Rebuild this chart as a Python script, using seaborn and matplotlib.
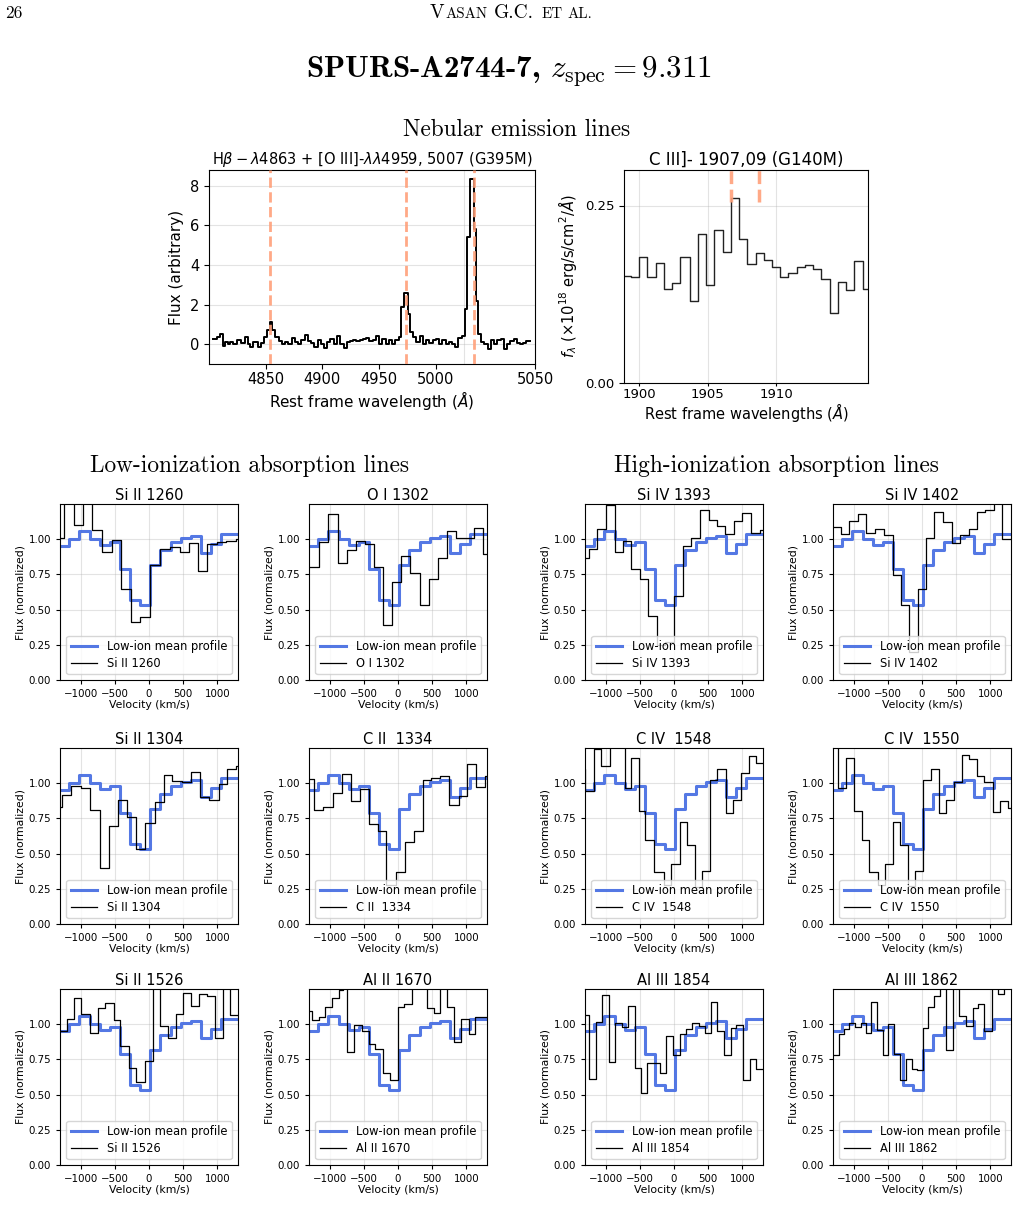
import numpy as np
import pandas as pd
import matplotlib
matplotlib.use("Agg")
import matplotlib.pyplot as plt
import seaborn as sns

# ---------------- data ----------------
# Nebular emission: Hbeta + [OIII] (bin left edges in Angstrom, last value = right end)
em_wave = [4823.0, 4825.7, 4827.6, 4829.9, 4831.5, 4833.1, 4834.9, 4837.2, 4839.9, 4842.9,
           4845.2, 4847.5, 4849.1, 4850.9, 4854.3, 4856.6, 4858.9, 4861.2, 4862.8, 4864.6,
           4866.9, 4869.2, 4871.5, 4873.7, 4876.0, 4878.3, 4880.6, 4882.9, 4885.2, 4887.5,
           4889.7, 4892.0, 4894.3, 4896.6, 4898.9, 4901.2, 4903.5, 4905.7, 4908.0, 4910.3,
           4912.6, 4914.9, 4917.2, 4919.5, 4921.7, 4924.0, 4926.3, 4928.6, 4930.9, 4933.2,
           4935.5, 4937.7, 4940.0, 4942.3, 4944.6, 4946.9, 4949.2, 4951.5, 4953.7, 4955.6,
           4957.4, 4958.8, 4960.6, 4962.0, 4964.0, 4966.3, 4968.6, 4970.9, 4973.2, 4975.5,
           4977.7, 4980.0, 4982.3, 4984.6, 4986.9, 4989.2, 4991.5, 4993.7, 4996.0, 4998.3,
           5000.6, 5002.2, 5004.0, 5006.8, 5008.1, 5010.0, 5012.0, 5014.3, 5016.6, 5018.9,
           5021.2, 5023.5, 5025.7, 5028.0, 5030.3, 5032.6, 5034.9, 5037.2, 5039.5, 5041.7,
           5044.0, 5046.3]
em_flux = [0.24, 0.37, 0.54, -0.10, 0.12, 0.00, 0.12, 0.03, 0.19, 0.08,
           0.34, 0.03, -0.13, 0.12, -0.13, 0.07, 0.37, 0.74, 1.13, 0.71,
           0.34, 0.15, 0.00, 0.12, 0.03, 0.29, 0.12, 0.00, 0.20, 0.46,
           0.15, 0.08, -0.13, 0.20, 0.00, -0.17, 0.12, 0.24, 0.00, 0.40,
           0.03, -0.17, 0.12, 0.17, 0.20, 0.17, 0.20, 0.24, 0.29, 0.17,
           0.20, 0.40, 0.03, 0.24, 0.00, 0.20, 0.00, 0.20, 0.37, 1.89,
           2.60, 2.57, 1.55, 0.62, 0.37, 0.12, 0.42, 0.03, 0.20, 0.07,
           0.20, 0.27, 0.03, 0.20, 0.00, 0.12, 0.00, -0.13, 0.29, 0.40,
           1.80, 5.43, 8.34, 5.80, 2.19, 0.54, 0.12, 0.03, -0.22, 0.20,
           0.03, 0.20, 0.24, -0.22, 0.00, 0.15, 0.24, 0.07, 0.03, 0.07,
           0.15]
em_lines = [4863, 4959, 5007]
# tick labels as printed under the emission panel, and the positions they sit at
em_tick_labels = ["4850", "4900", "4950", "5000", "5050"]
em_tick_pos = [4860, 4900, 4940, 4980, 5050]
em_grid_pos = [4900, 5000]

# C III] 1907,09
c3_wave = [1898.93, 1899.4, 1900.0, 1900.6, 1901.2, 1901.8, 1902.4, 1903.0, 1903.7, 1904.3,
           1904.9, 1905.5, 1906.1, 1906.7, 1907.3, 1907.9, 1908.5, 1909.1, 1909.7, 1910.3,
           1910.9, 1911.5, 1912.1, 1912.7, 1913.3, 1913.9, 1914.5, 1915.1, 1915.7, 1916.3,
           1916.7]
c3_flux = [0.151, 0.150, 0.178, 0.149, 0.169, 0.133, 0.141, 0.177, 0.116, 0.210,
           0.138, 0.215, 0.185, 0.260, 0.203, 0.167, 0.183, 0.173, 0.163, 0.149,
           0.155, 0.163, 0.166, 0.160, 0.147, 0.098, 0.142, 0.131, 0.172, 0.133]
c3_lines = [1906.68, 1908.73]

# Low-ion mean profile (velocity bin edges, km/s)
mean_edges = [-1310, -1171, -1019, -868, -722, -565, -420, -283, -137, 10, 165, 315, 462,
              609, 756, 902, 1048, 1310]
mean_flux = [0.95, 1.00, 1.055, 1.00, 0.96, 0.98, 0.79, 0.57, 0.535, 0.815, 0.92, 0.98,
             1.01, 1.02, 0.905, 0.965, 1.035]

si2_1260_v = [-1310, -1244, -1102, -966, -829, -683, -541, -405, -268, -127, 20, 161, 302,
              449, 580, 717, 849, 995, 1132, 1273, 1310]
si2_1260_f = [1.01, 1.40, 1.10, 1.35, 1.067, 0.907, 0.993, 0.648, 0.41, 0.448, 0.814, 0.93,
              0.948, 0.912, 0.971, 0.771, 0.969, 0.98, 0.987, 1.0]

o1_1302_v = [-1310, -1160, -1024, -883, -746, -610, -488, -356, -220, -83, 49, 180, 317,
             454, 585, 717, 849, 976, 1107, 1244, 1310]
o1_1302_f = [0.80, 0.983, 1.18, 0.833, 0.921, 0.986, 0.964, 0.805, 0.393, 0.695, 0.88, 0.76,
             0.536, 0.719, 0.867, 1.06, 1.01, 1.005, 1.08, 0.898]

si4_1393_v = [-1310, -1244, -1122, -1000, -868, -746, -624, -502, -380, -249, -127, 0, 132,
              254, 376, 507, 629, 751, 873, 1000, 1132, 1254, 1310]
si4_1393_f = [0.864, 0.929, 1.07, 1.24, 0.912, 0.988, 0.79, 0.714, 0.452, 0.25, 0.27, 0.595,
              0.952, 1.012, 1.21, 1.136, 1.095, 1.04, 1.131, 1.183, 1.043, 1.067]

si4_1402_v = [-1310, -1185, -1063, -941, -820, -688, -551, -429, -307, -185, -63, 59, 180,
              312, 439, 561, 683, 805, 927, 1049, 1171, 1310]
si4_1402_f = [1.088, 1.04, 1.131, 1.179, 1.043, 1.071, 1.031, 0.745, 0.536, 0.2, 0.643, 1.005,
              1.195, 1.124, 0.976, 1.029, 1.071, 1.19, 1.21, 1.30, 1.0]

si2_1304_v = [-1310, -1273, -1137, -1000, -859, -722, -590, -454, -322, -185, -54, 83, 215,
              341, 478, 610, 751, 878, 1020, 1146, 1278, 1310]
si2_1304_f = [0.833, 0.917, 0.983, 0.967, 0.81, 0.395, 0.698, 0.883, 0.762, 0.536, 0.717,
              0.869, 1.055, 1.014, 1.007, 1.079, 0.9, 0.883, 0.995, 1.102, 1.12]

c2_1334_v = [-1310, -1220, -1098, -956, -820, -688, -551, -429, -298, -171, -29, 98, 229,
             361, 488, 620, 751, 888, 1010, 1141, 1278, 1310]
c2_1334_f = [1.031, 0.81, 0.829, 0.929, 1.064, 0.876, 0.96, 0.71, 0.66, 0.28, 0.371, 0.583,
             0.66, 1.026, 1.036, 1.048, 0.848, 0.912, 1.136, 0.971, 1.05]

c4_1548_v = [-1310, -1293, -1171, -1063, -941, -712, -624, -512, -420, -298, -151, -39, 83,
             190, 302, 410, 522, 634, 756, 863, 976, 1098, 1205, 1310]
c4_1548_f = [1.10, 0.948, 1.245, 1.12, 1.35, 0.967, 1.181, 0.8, 0.598, 0.371, 0.28, 0.424,
             0.721, 0.562, 0.26, 0.376, 1.024, 1.1, 0.786, 0.881, 1.071, 1.193, 1.145]

c4_1550_v = [-1310, -1222, -1112, -990, -878, -771, -649, -537, -429, -322, -210, -98, 10,
             132, 254, 351, 463, 585, 693, 805, 912, 1034, 1146, 1254, 1310]
c4_1550_f = [1.3, 0.967, 1.181, 0.805, 0.598, 0.371, 0.28, 0.424, 0.721, 0.562, 0.27, 0.376,
             1.024, 1.102, 0.786, 0.883, 1.012, 1.198, 1.174, 1.048, 1.012, 0.793, 0.876, 0.821]

si2_1526_v = [-1310, -1200, -1102, -1000, -868, -746, -639, -517, -420, -293, -185, -54, 59,
              166, 278, 400, 498, 610, 727, 854, 971, 1083, 1180, 1310]
si2_1526_f = [0.952, 1.04, 1.186, 1.071, 0.936, 1.112, 1.148, 1.029, 0.845, 0.69, 0.588,
              0.738, 1.35, 0.988, 0.905, 1.071, 1.219, 1.131, 1.214, 1.202, 0.9, 1.35, 1.064]

al2_1670_v = [-1310, -1259, -1161, -1063, -966, -868, -800, -746, -649, -527, -429, -332,
              -220, -112, -5, 93, 205, 424, 522, 620, 717, 815, 927, 1034, 1132, 1310]
al2_1670_f = [1.095, 1.029, 1.052, 1.124, 1.183, 1.243, 1.35, 0.80, 0.993, 0.952, 0.857,
              0.821, 0.65, 0.607, 1.119, 1.143, 1.35, 1.112, 1.083, 1.35, 1.119, 0.876, 1.04,
              0.929, 1.048]

al3_1854_v = [-1310, -1244, -1137, -1049, -951, -859, -761, -673, -576, -488, -390, -210,
              -112, -15, 83, 180, 268, 366, 449, 546, 634, 732, 829, 912, 1010, 1107, 1195,
              1310]
al3_1854_f = [1.064, 0.612, 1.017, 1.21, 0.731, 1.005, 0.981, 1.126, 0.69, 0.512, 0.721,
              0.65, 0.917, 0.779, 0.933, 0.969, 1.007, 0.988, 0.936, 1.16, 0.952, 0.779,
              0.976, 0.995, 0.607, 0.75, 0.679]

al3_1862_v = [-1310, -1210, -1137, -1063, -976, -893, -820, -746, -659, -576, -493, -405,
              -317, -234, -146, -73, 10, 93, 180, 268, 351, 449, 546, 644, 741, 815, 912,
              1024, 1107, 1205, 1310]
al3_1862_f = [0.779, 0.929, 0.964, 1.007, 0.981, 1.005, 0.94, 1.16, 0.957, 0.779, 1.0, 0.79,
              0.607, 0.75, 0.683, 0.674, 0.976, 1.119, 1.202, 1.35, 0.814, 1.35, 1.06, 0.988,
              1.112, 1.143, 0.952, 1.35, 1.214, 1.30]

panel_names = [["Si II 1260", "O I 1302", "Si IV 1393", "Si IV 1402"],
               ["Si II 1304", "C II  1334", "C IV  1548", "C IV  1550"],
               ["Si II 1526", "Al II 1670", "Al III 1854", "Al III 1862"]]
panel_data = [[(si2_1260_v, si2_1260_f), (o1_1302_v, o1_1302_f),
               (si4_1393_v, si4_1393_f), (si4_1402_v, si4_1402_f)],
              [(si2_1304_v, si2_1304_f), (c2_1334_v, c2_1334_f),
               (c4_1548_v, c4_1548_f), (c4_1550_v, c4_1550_f)],
              [(si2_1526_v, si2_1526_f), (al2_1670_v, al2_1670_f),
               (al3_1854_v, al3_1854_f), (al3_1862_v, al3_1862_f)]]

# ---------------- figure ----------------
W, H = 1019, 1217
fig = plt.figure(figsize=(W / 100, H / 100), dpi=100)


def rect(l, t, r, b):
    return [l / W, 1 - b / H, (r - l) / W, (b - t) / H]


def steps(ax, edges, vals, **kw):
    df = pd.DataFrame({"x": list(edges), "y": list(vals) + [vals[-1]]})
    sns.lineplot(data=df, x="x", y="y", drawstyle="steps-post", ax=ax,
                 estimator=None, sort=False, **kw)


GRID = dict(color="#b0b0b0", alpha=0.35, lw=0.8)
SALMON = "#FFA07A"

# header
fig.text(5 / W, 1 - 13 / H, "26", family="cmr10", size=12.5, ha="left", va="center")
renderer = fig.canvas.get_renderer()
parts = [("V", 14.0), ("ASAN", 10.8), ("G.C.", 14.0), ("ET", 10.8), ("AL.", 10.8)]
widths = []
for s, sz in parts:
    t = fig.text(0, 0, s, family="cmr10", size=sz)
    widths.append(t.get_window_extent(renderer).width)
    t.remove()
gaps = [0.5, 7, 7, 5, 0]
x0 = 511 - (sum(widths) + sum(gaps)) / 2
for (s, sz), w, g in zip(parts, widths, gaps):
    fig.text(x0 / W, 1 - 18 / H, s, family="cmr10", size=sz, ha="left", va="baseline")
    x0 += w + g

fig.text(0.5, 1 - 72 / H, r"SPURS-A2744-7, $z_{\rm spec} = 9.311$", family="cmb10",
         math_fontfamily="cm", size=22.4, ha="center", va="center")
fig.text(517 / W, 1 - 130 / H, "Nebular emission lines", family="cmr10", size=16.8,
         ha="center", va="center")
fig.text(250 / W, 1 - 466 / H, "Low-ionization absorption lines", family="cmr10", size=16.8,
         ha="center", va="center")
fig.text(776 / W, 1 - 466 / H, "High-ionization absorption lines", family="cmr10", size=16.8,
         ha="center", va="center")

# ---- top-left: Hbeta + [OIII]
ax1 = fig.add_axes(rect(209, 170, 535, 364))
steps(ax1, em_wave, em_flux, color="black", linewidth=1.4)
for w in em_lines:
    ax1.axvline(w, color=SALMON, ls="--", lw=2, alpha=0.9, zorder=3)
ax1.set_xlim(4820, 5050)
ax1.set_ylim(-1, 8.8)
ax1.set_xticks(em_tick_pos)
ax1.set_xticklabels(em_tick_labels)
ax1.set_xticks(em_grid_pos, minor=True)
ax1.tick_params(axis="x", which="minor", length=0)
ax1.set_yticks([0, 2, 4, 6, 8])
ax1.grid(True, axis="y", which="major", **GRID)
ax1.grid(True, axis="x", which="minor", **GRID)
ax1.tick_params(labelsize=10.5)
ax1.tick_params(axis="x", which="major", pad=2.5)
ax1.set_title(r"H$\beta-\lambda$4863 + [O III]-$\lambda\lambda$4959, 5007 (G395M)",
              fontsize=10.5, pad=4)
ax1.set_xlabel(r"Rest frame wavelength ($\AA$)", fontsize=11, labelpad=1)
ax1.set_ylabel("Flux (arbitrary)", fontsize=11)

# ---- top-right: C III]
ax2 = fig.add_axes(rect(624, 170, 868, 383))
steps(ax2, c3_wave, c3_flux, color="#222222", linewidth=1.0)
for w in c3_lines:
    ax2.axvline(w, ymin=0.85, ymax=1.0, color=SALMON, ls="--", lw=2.5, alpha=0.9)
ax2.set_xlim(1898.9, 1916.7)
ax2.set_ylim(0, 0.30)
ax2.set_xticks([1900, 1905, 1910])
ax2.set_yticks([0, 0.25])
ax2.yaxis.set_major_formatter(matplotlib.ticker.FormatStrFormatter("%.2f"))
ax2.grid(True, **GRID)
ax2.tick_params(labelsize=9.5)
ax2.tick_params(axis="x", length=2, pad=1.5)
ax2.set_title("C III]- 1907,09 (G140M)", fontsize=12, pad=4)
ax2.set_xlabel(r"Rest frame wavelengths ($\AA$)", fontsize=10.5, labelpad=0)
ax2.set_ylabel(r"$f_\lambda$ ($\times10^{18}$ erg/s/cm$^2$/$\AA$)", fontsize=10.5)

# ---- absorption panels
col_l = [60, 309, 585, 833]
row_t = [504, 748, 989]
pw, ph = 178, 176
for r in range(3):
    for c in range(4):
        ax = fig.add_axes(rect(col_l[c], row_t[r], col_l[c] + pw, row_t[r] + ph))
        name = panel_names[r][c]
        v, f = panel_data[r][c]
        steps(ax, mean_edges, mean_flux, color="royalblue", linewidth=2.2, alpha=0.9,
              label="Low-ion mean profile")
        steps(ax, v, f, color="black", linewidth=0.9, label=name)
        ax.set_xlim(-1300, 1300)
        ax.set_ylim(0, 1.25)
        ax.set_xticks([-1000, -500, 0, 500, 1000])
        ax.set_yticks([0, 0.25, 0.5, 0.75, 1.0])
        ax.grid(True, **GRID)
        ax.tick_params(labelsize=7.4, length=3)
        ax.set_title(name, fontsize=10.5, pad=3)
        ax.set_xlabel("Velocity (km/s)", fontsize=7.8, labelpad=1)
        ax.set_ylabel("Flux (normalized)", fontsize=7.8, labelpad=2)
        ax.legend(loc="lower center", fontsize=8.3, handlelength=2.3,
                  borderaxespad=0.5, labelspacing=0.3)

fig.savefig("out.png", dpi=100)
